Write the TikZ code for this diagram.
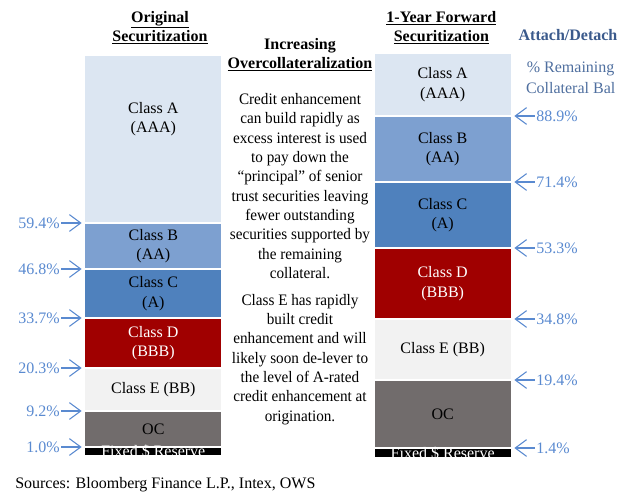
\documentclass[tikz,border=0pt]{standalone}
\usepackage{fontspec}
\setmainfont{Liberation Serif}
\newfontfamily\narrowserif[FakeStretch=0.95,Ligatures=TeX]{Liberation Serif}
\usepackage{xcolor}
\usetikzlibrary{arrows.meta,positioning}

\definecolor{trancheA}{HTML}{DCE6F2}
\definecolor{trancheB}{HTML}{7DA0D0}
\definecolor{trancheC}{HTML}{4F81BD}
\definecolor{trancheD}{HTML}{A00000}
\definecolor{trancheE}{HTML}{F2F2F2}
\definecolor{trancheOC}{HTML}{716C6C}
\definecolor{pctblue}{HTML}{5A8AD0}
\definecolor{attachblue}{HTML}{3B5A8C}
\definecolor{remainblue}{HTML}{4F6F9F}

\begin{document}
\begin{tikzpicture}[font=\fontsize{12}{14.5}\selectfont]
    % Styles
    \tikzstyle{block} = [rectangle, draw=white, line width=0.8pt, minimum width=103pt, inner sep=0pt, outer sep=0pt, align=center]
    \tikzstyle{heading} = [align=center, inner sep=0pt, font=\fontsize{12}{14.25}\selectfont\bfseries]
    \tikzstyle{note} = [align=center, inner sep=0pt]
    \tikzstyle{comment} = [note, font=\fontsize{12}{14.5}\selectfont\narrowserif]
    \tikzstyle{pct} = [text=pctblue, inner sep=1pt]
    \tikzstyle{attach} = [pctblue, line width=0.8pt, -{Straight Barb[length=8.5pt,width=12.5pt]}]
    \tikzstyle{reserve} = [text=white, inner sep=0pt]

    \useasboundingbox (0,0) rectangle (473.25pt,-372pt);

    % Headings
    \node [heading] (origHead) at (120pt,-20.6pt) {\underline{Original}\\\underline{Securitization}};
    \node [heading] (incHead) at (225pt,-41.3pt) {Increasing\\\underline{Overcollateralization}};
    \node [heading] (fwdHead) at (331pt,-20.6pt) {\underline{1-Year Forward}\\\underline{Securitization}};
    \node [heading, text=attachblue] (attHead) at (426pt,-26.25pt) {Attach/Detach};
    \node [note, text=remainblue] (remain) at (428pt,-58pt) {\% Remaining\\[1.2pt]Collateral Bal};

    % Original securitization
    \node [block, anchor=north, fill=trancheA, minimum height=126pt] (origA) at (115pt,-41.25pt) {};
    \node [note] (origAtxt) at ([yshift=-48pt]origA.north) {Class A\\(AAA)};
    \node [block, below=0pt of origA, fill=trancheB, minimum height=34.5pt] (origB) {Class B\\(AA)};
    \node [block, below=0pt of origB, fill=trancheC, minimum height=36.75pt] (origC) {Class C\\(A)};
    \node [block, below=0pt of origC, fill=trancheD, text=white, minimum height=37.5pt] (origD) {Class D\\(BBB)};
    \node [block, below=0pt of origD, fill=trancheE, minimum height=32.25pt] (origE) {Class E (BB)};
    \node [block, below=0pt of origE, fill=trancheOC, minimum height=27pt] (origOC) {OC};
    \node [block, below=0pt of origOC, fill=black, minimum height=6.75pt] (origFix) {};
    \node [reserve] (origFixTxt) at (origFix) {Fixed \$ Reserve};

    % 1-year forward securitization
    \node [block, anchor=north, fill=trancheA, minimum height=47.25pt] (fwdA) at (332pt,-39.75pt) {Class A\\(AAA)};
    \node [block, below=0pt of fwdA, fill=trancheB, minimum height=49.5pt] (fwdB) {Class B\\(AA)};
    \node [block, below=0pt of fwdB, fill=trancheC, minimum height=49.5pt] (fwdC) {Class C\\(A)};
    \node [block, below=0pt of fwdC, fill=trancheD, text=white, minimum height=53.25pt] (fwdD) {Class D\\(BBB)};
    \node [block, below=0pt of fwdD, fill=trancheE, minimum height=45.75pt] (fwdE) {Class E (BB)};
    \node [block, below=0pt of fwdE, fill=trancheOC, minimum height=51pt] (fwdOC) {OC};
    \node [block, below=0pt of fwdOC, fill=black, minimum height=7.5pt] (fwdFix) {};
    \node [reserve] (fwdFixTxt) at (fwdFix) {Fixed \$ Reserve};

    % Attach points, original
    \node [pct, left=17.5pt of origB.north west] (pctB) {59.4\%};
    \draw [attach] (pctB) -- ([xshift=-2.25pt]origB.north west);
    \node [pct, left=17.5pt of origC.north west] (pctC) {46.8\%};
    \draw [attach] (pctC) -- ([xshift=-2.25pt]origC.north west);
    \node [pct, left=17.5pt of origD.north west] (pctD) {33.7\%};
    \draw [attach] (pctD) -- ([xshift=-2.25pt]origD.north west);
    \node [pct, left=17.5pt of origE.north west] (pctE) {20.3\%};
    \draw [attach] (pctE) -- ([xshift=-2.25pt]origE.north west);
    \node [pct, left=17.5pt of origOC.north west] (pctOC) {9.2\%};
    \draw [attach] (pctOC) -- ([xshift=-2.25pt]origOC.north west);
    \node [pct, left=17.5pt of origFix.north west] (pctFix) {1.0\%};
    \draw [attach] (pctFix) -- ([xshift=-2.25pt]origFix.north west);

    % Attach points, forward
    \node [pct, right=17.5pt of fwdB.north east] (pctFB) {88.9\%};
    \draw [attach] (pctFB) -- ([xshift=2.25pt]fwdB.north east);
    \node [pct, right=17.5pt of fwdC.north east] (pctFC) {71.4\%};
    \draw [attach] (pctFC) -- ([xshift=2.25pt]fwdC.north east);
    \node [pct, right=17.5pt of fwdD.north east] (pctFD) {53.3\%};
    \draw [attach] (pctFD) -- ([xshift=2.25pt]fwdD.north east);
    \node [pct, right=17.5pt of fwdE.north east] (pctFE) {34.8\%};
    \draw [attach] (pctFE) -- ([xshift=2.25pt]fwdE.north east);
    \node [pct, right=17.5pt of fwdOC.north east] (pctFOC) {19.4\%};
    \draw [attach] (pctFOC) -- ([xshift=2.25pt]fwdOC.north east);
    \node [pct, right=17.5pt of fwdFix.north east] (pctFFix) {1.4\%};
    \draw [attach] (pctFFix) -- ([xshift=2.25pt]fwdFix.north east);

    % Commentary
    \node [comment] (whyText) at (225pt,-139.5pt) {Credit enhancement\\can build rapidly as\\excess interest is used\\to pay down the\\``principal'' of senior\\trust securities leaving\\fewer outstanding\\securities supported by\\the remaining\\collateral.};
    \node [comment] (classEText) at (225pt,-269.6pt) {Class E has rapidly\\built credit\\enhancement and will\\likely soon de-lever to\\the level of A-rated\\credit enhancement at\\origination.};

    \node [anchor=west, inner sep=0pt] (sources) at (11.25pt,-363.75pt) {Sources: Bloomberg Finance L.P., Intex, OWS};
\end{tikzpicture}
\end{document}
